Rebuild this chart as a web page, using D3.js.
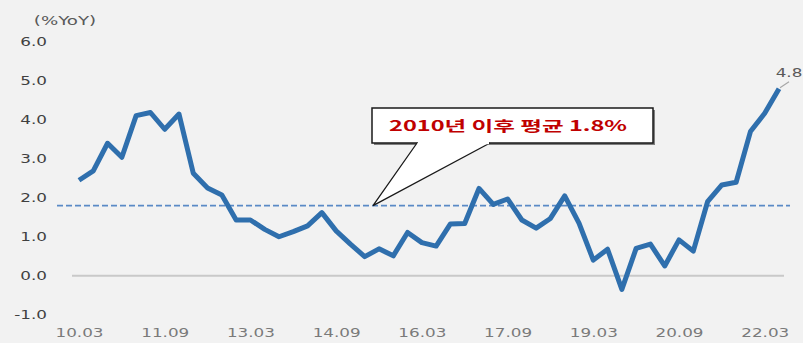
<!DOCTYPE html>
<html>
<head>
<meta charset="utf-8">
<script src="https://cdn.jsdelivr.net/npm/d3@7"></script>
<style>
  html, body { margin: 0; padding: 0; background: #f2f2f2; }
  svg { display: block; }
</style>
</head>
<body>
<svg id="chart" width="803" height="343"></svg>
<script>
// Quarterly periods (YY.MM), 2010 Q1 through 2022 Q2
const categories = [
  "10.03","10.06","10.09","10.12","11.03","11.06","11.09","11.12",
  "12.03","12.06","12.09","12.12","13.03","13.06","13.09","13.12",
  "14.03","14.06","14.09","14.12","15.03","15.06","15.09","15.12",
  "16.03","16.06","16.09","16.12","17.03","17.06","17.09","17.12",
  "18.03","18.06","18.09","18.12","19.03","19.06","19.09","19.12",
  "20.03","20.06","20.09","20.12","21.03","21.06","21.09","21.12",
  "22.03","22.06"
];

// Year-over-year change, %
const yoyValues = [
  2.45, 2.69, 3.40, 3.04, 4.11, 4.19, 3.76, 4.15,
  2.63, 2.25, 2.07, 1.43, 1.43, 1.19, 1.00, 1.13,
  1.28, 1.62, 1.15, 0.81, 0.49, 0.69, 0.51, 1.11,
  0.85, 0.76, 1.33, 1.34, 2.24, 1.83, 1.97, 1.43,
  1.22, 1.47, 2.05, 1.35, 0.40, 0.68, -0.35, 0.70,
  0.81, 0.25, 0.92, 0.63, 1.90, 2.33, 2.40, 3.70,
  4.17, 4.8
];

const xTickLabels = ["10.03","11.09","13.03","14.09","16.03","17.09","19.03","20.09","22.03"];
const yTickValues = [-1, 0, 1, 2, 3, 4, 5, 6];

const averageValue = 1.8;
const averageLabel = "2010년 이후 평균 1.8%";
const unitLabel = "(%YoY)";

const svg = d3.select("#chart");
const stretch = 1.4;   // wide lettering used throughout

const x = d3.scalePoint().domain(categories).range([79, 779]);
const y = d3.scaleLinear().domain([-1, 6]).range([314.65, 42]);

// unit caption
svg.append("text")
  .attr("transform", `translate(65,25) scale(${stretch},1)`)
  .attr("text-anchor", "middle")
  .attr("font-family", "DejaVu Sans, sans-serif")
  .attr("font-size", 13)
  .attr("fill", "#595959")
  .text(unitLabel);

// y axis (labels only)
const yAxis = svg.append("g")
  .attr("transform", "translate(47,0)")
  .call(d3.axisLeft(y).tickValues(yTickValues).tickFormat(d => d.toFixed(1)).tickSize(0).tickPadding(0));
yAxis.select(".domain").remove();
yAxis.selectAll("text")
  .attr("x", 0)
  .attr("transform", `scale(${stretch},1)`)
  .attr("font-family", "DejaVu Sans, sans-serif")
  .attr("font-size", 12)
  .attr("fill", "#404040");

// x axis (labels only)
const xAxis = svg.append("g")
  .attr("transform", "translate(0,328)")
  .call(d3.axisBottom(x).tickValues(xTickLabels).tickSize(0).tickPadding(0));
xAxis.select(".domain").remove();
xAxis.selectAll("text")
  .attr("transform", `scale(${stretch},1)`)
  .attr("font-family", "DejaVu Sans, sans-serif")
  .attr("font-size", 12)
  .attr("fill", "#7a7a7a");

// zero baseline
svg.append("line")
  .attr("x1", 72).attr("x2", 784)
  .attr("y1", y(0)).attr("y2", y(0))
  .attr("stroke", "#c9c9c9")
  .attr("stroke-width", 2);

// average reference line
svg.append("line")
  .attr("x1", 57).attr("x2", 790)
  .attr("y1", y(averageValue)).attr("y2", y(averageValue))
  .attr("stroke", "#5a8ac6")
  .attr("stroke-width", 1.6)
  .attr("stroke-dasharray", "6,3");

// series line
const line = d3.line()
  .x((d, i) => x(categories[i]))
  .y(d => y(d));

svg.append("path")
  .datum(yoyValues)
  .attr("d", line)
  .attr("fill", "none")
  .attr("stroke", "#2f6fad")
  .attr("stroke-width", 5)
  .attr("stroke-linejoin", "round")
  .attr("stroke-linecap", "butt");

// last value label with leader
const lastIdx = yoyValues.length - 1;
const lx = x(categories[lastIdx]);
const ly = y(yoyValues[lastIdx]);
svg.append("line")
  .attr("x1", lx + 1).attr("y1", ly - 1)
  .attr("x2", lx + 10).attr("y2", ly - 7)
  .attr("stroke", "#a6a6a6")
  .attr("stroke-width", 1.2);
svg.append("text")
  .attr("transform", `translate(${lx + 10},${ly - 12}) scale(${stretch},1)`)
  .attr("text-anchor", "middle")
  .attr("font-family", "DejaVu Sans, sans-serif")
  .attr("font-size", 12)
  .attr("fill", "#595959")
  .text(yoyValues[lastIdx].toFixed(1));

// callout box pointing at the average line
const box = { x: 372, y: 108, w: 281, h: 35 };
const tipX = 373;
const baseL = 417, baseR = 490;
const callout = svg.append("g");
callout.append("rect")
  .attr("x", box.x + 2).attr("y", box.y + 2)
  .attr("width", box.w).attr("height", box.h)
  .attr("fill", "#7f7f7f");
callout.append("rect")
  .attr("x", box.x).attr("y", box.y)
  .attr("width", box.w).attr("height", box.h)
  .attr("fill", "#ffffff")
  .attr("stroke", "#1a1a1a")
  .attr("stroke-width", 1.5);
callout.append("path")
  .attr("d", `M${baseL},${box.y + box.h} L${tipX},${y(averageValue)} L${baseR},${box.y + box.h}`)
  .attr("fill", "#ffffff")
  .attr("stroke", "#1a1a1a")
  .attr("stroke-width", 1.3)
  .attr("stroke-linejoin", "miter");
callout.append("line")
  .attr("x1", baseL + 1).attr("x2", baseR - 1)
  .attr("y1", box.y + box.h).attr("y2", box.y + box.h)
  .attr("stroke", "#ffffff")
  .attr("stroke-width", 2.5);
callout.append("text")
  .attr("x", 508).attr("y", 131)
  .attr("text-anchor", "middle")
  .attr("font-family", "Noto Sans CJK KR, sans-serif")
  .attr("font-weight", "bold")
  .attr("font-size", 14)
  .attr("fill", "#c00000")
  .attr("textLength", 238)
  .attr("lengthAdjust", "spacingAndGlyphs")
  .text(averageLabel);
</script>
</body>
</html>
